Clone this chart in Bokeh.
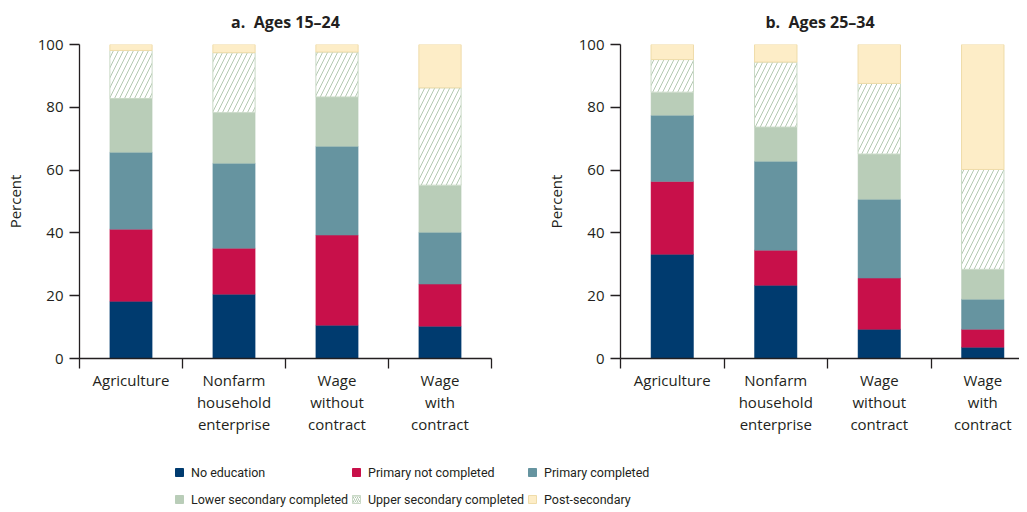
from bokeh.plotting import figure
from bokeh.models import FixedTicker, Range1d, Legend, LegendItem, ColumnDataSource
from bokeh.layouts import column, row
from bokeh.embed import file_html
from bokeh.resources import INLINE

# ---------------- data ----------------
categories = ["Agriculture", "Nonfarm\nhousehold\nenterprise",
              "Wage\nwithout\ncontract", "Wage\nwith\ncontract"]
levels = ["No education", "Primary not completed", "Primary completed",
          "Lower secondary completed", "Upper secondary completed", "Post-secondary"]
titles = ["a.\u00a0 Ages 15\u201324", "b.\u00a0 Ages 25\u201334"]

# Panel a: Ages 15-24 (percent shares)
a_no_education = [18.2, 20.5, 10.6, 10.3]
a_primary_not = [23.0, 14.6, 28.7, 13.4]
a_primary_done = [24.5, 27.1, 28.3, 16.5]
a_lower_sec = [17.1, 16.1, 15.7, 15.0]
a_upper_sec = [15.3, 19.1, 14.3, 31.0]
a_post_sec = [1.9, 2.6, 2.4, 13.8]

# Panel b: Ages 25-34 (percent shares)
b_no_education = [33.2, 23.3, 9.3, 3.6]
b_primary_not = [23.2, 11.2, 16.3, 5.7]
b_primary_done = [21.1, 28.3, 25.1, 9.6]
b_lower_sec = [7.3, 10.9, 14.4, 9.5]
b_upper_sec = [10.4, 20.7, 22.5, 31.8]
b_post_sec = [4.8, 5.6, 12.4, 39.8]

y_ticks = [0, 20, 40, 60, 80, 100]

# ---------------- styles ----------------
TXT = "#231F20"
FONT = "Open Sans"
LEG_FONT = "Roboto"
styles = [
    dict(fill_color="#003B6F", line_color="#003B6F"),
    dict(fill_color="#C8104A", line_color="#C8104A"),
    dict(fill_color="#6694A0", line_color="#6694A0"),
    dict(fill_color="#B9CDB8", line_color="#B9CDB8"),
    dict(fill_color="white", line_color="#C9D9C6", hatch_pattern="/",
         hatch_color="#B3C9B1", hatch_weight=1),
    dict(fill_color="#FDEDC7", line_color="#EFDCA9"),
]


def make_panel(title, series, width, border_left, border_right, x_end):
    p = figure(width=width, height=443, output_backend="svg", toolbar_location=None,
               x_range=Range1d(0, x_end), y_range=Range1d(0, 100),
               min_border_left=border_left, min_border_right=border_right,
               min_border_top=44, min_border_bottom=85)
    p.title.text = title
    p.title.text_font = FONT
    p.title.text_font_size = "16px"
    p.title.text_font_style = "bold"
    p.title.text_color = TXT
    p.title.align = "center"
    p.title.vertical_align = "top"
    p.title.standoff = 20
    p.outline_line_color = None
    p.xgrid.visible = False
    p.ygrid.visible = False
    p.background_fill_color = "white"
    p.border_fill_color = "white"

    n = len(categories)
    xs = [i + 0.5 for i in range(n)]
    bottoms = [0.0] * n
    sources = []
    for vals, st, lab in zip(series, styles, levels):
        tops = [b + v for b, v in zip(bottoms, vals)]
        src = ColumnDataSource(dict(x=xs, bottom=bottoms, top=tops))
        sources.append(src)
        lw = 1 if ("hatch_pattern" in st or lab == "Post-secondary") else 0.5
        p.vbar(x="x", bottom="bottom", top="top", width=0.41, source=src,
               line_width=lw, hatch_scale=10, **st)
        bottoms = tops

    xa = p.xaxis[0]
    xa.ticker = FixedTicker(ticks=xs, minor_ticks=list(range(n + 1)))
    xa.major_label_overrides = {x: c for x, c in zip(xs, categories)}
    xa.major_tick_line_color = None
    xa.major_tick_out = 0
    xa.major_tick_in = 0
    xa.minor_tick_line_color = TXT
    xa.minor_tick_line_width = 1.3
    xa.minor_tick_out = 10
    xa.minor_tick_in = 0
    xa.axis_line_color = TXT
    xa.axis_line_width = 1.3
    xa.major_label_text_font = FONT
    xa.major_label_text_font_size = "15px"
    xa.major_label_text_color = TXT
    xa.major_label_text_line_height = 1.12
    xa.major_label_standoff = 1

    ya = p.yaxis[0]
    ya.ticker = FixedTicker(ticks=y_ticks)
    ya.major_tick_out = 10
    ya.major_tick_in = 0
    ya.minor_tick_out = 0
    ya.minor_tick_in = 0
    ya.major_tick_line_color = TXT
    ya.major_tick_line_width = 1.3
    ya.axis_line_color = TXT
    ya.axis_line_width = 1.3
    ya.major_label_text_font = FONT
    ya.major_label_text_font_size = "15px"
    ya.major_label_text_color = TXT
    ya.major_label_standoff = 6
    ya.axis_label = "Percent"
    ya.axis_label_text_font = FONT
    ya.axis_label_text_font_size = "15px"
    ya.axis_label_text_font_style = "normal"
    ya.axis_label_text_color = TXT
    ya.axis_label_standoff = 10
    return p, sources


pa, a_sources = make_panel(titles[0],
                           [a_no_education, a_primary_not, a_primary_done,
                            a_lower_sec, a_upper_sec, a_post_sec],
                           520, 79, 29, 4)
pb, b_sources = make_panel(titles[1],
                           [b_no_education, b_primary_not, b_primary_done,
                            b_lower_sec, b_upper_sec, b_post_sec],
                           499, 100, 0, 3.855)

# ---------------- legend (separate strip below both panels) ----------------
leg = figure(width=1019, height=65, output_backend="svg", toolbar_location=None,
             x_range=Range1d(-10, -9), y_range=Range1d(0, 1),
             x_axis_type=None, y_axis_type=None,
             min_border=0, min_border_left=0, min_border_right=0,
             min_border_top=0, min_border_bottom=0)
leg.outline_line_color = None
leg.xgrid.visible = False
leg.ygrid.visible = False
leg_renderers = []
for st, src in zip(styles, a_sources):
    r = leg.vbar(x="x", bottom="bottom", top="top", width=0.41, source=src,
                 line_width=1, hatch_scale=4, **st)
    leg_renderers.append(r)

# three columns, two rows each: (row 1, row 2)
col_groups = [(0, 3), (1, 4), (2, 5)]
col_x = [174, 351, 527]
for (i1, i2), cx in zip(col_groups, col_x):
    items = [LegendItem(label=levels[i1], renderers=[leg_renderers[i1]]),
             LegendItem(label=levels[i2], renderers=[leg_renderers[i2]])]
    lg = Legend(items=items, orientation="vertical",
                location=(cx, 0), padding=0, margin=0,
                border_line_alpha=0, background_fill_alpha=0,
                glyph_width=10, glyph_height=10, label_standoff=7,
                spacing=9, label_height=18,
                label_text_font=LEG_FONT,
                label_text_font_size="12.5px", label_text_color=TXT)
    leg.add_layout(lg, "center")

layout = column(row(pa, pb), leg)
open("out.html", "w").write(file_html(layout, INLINE))
